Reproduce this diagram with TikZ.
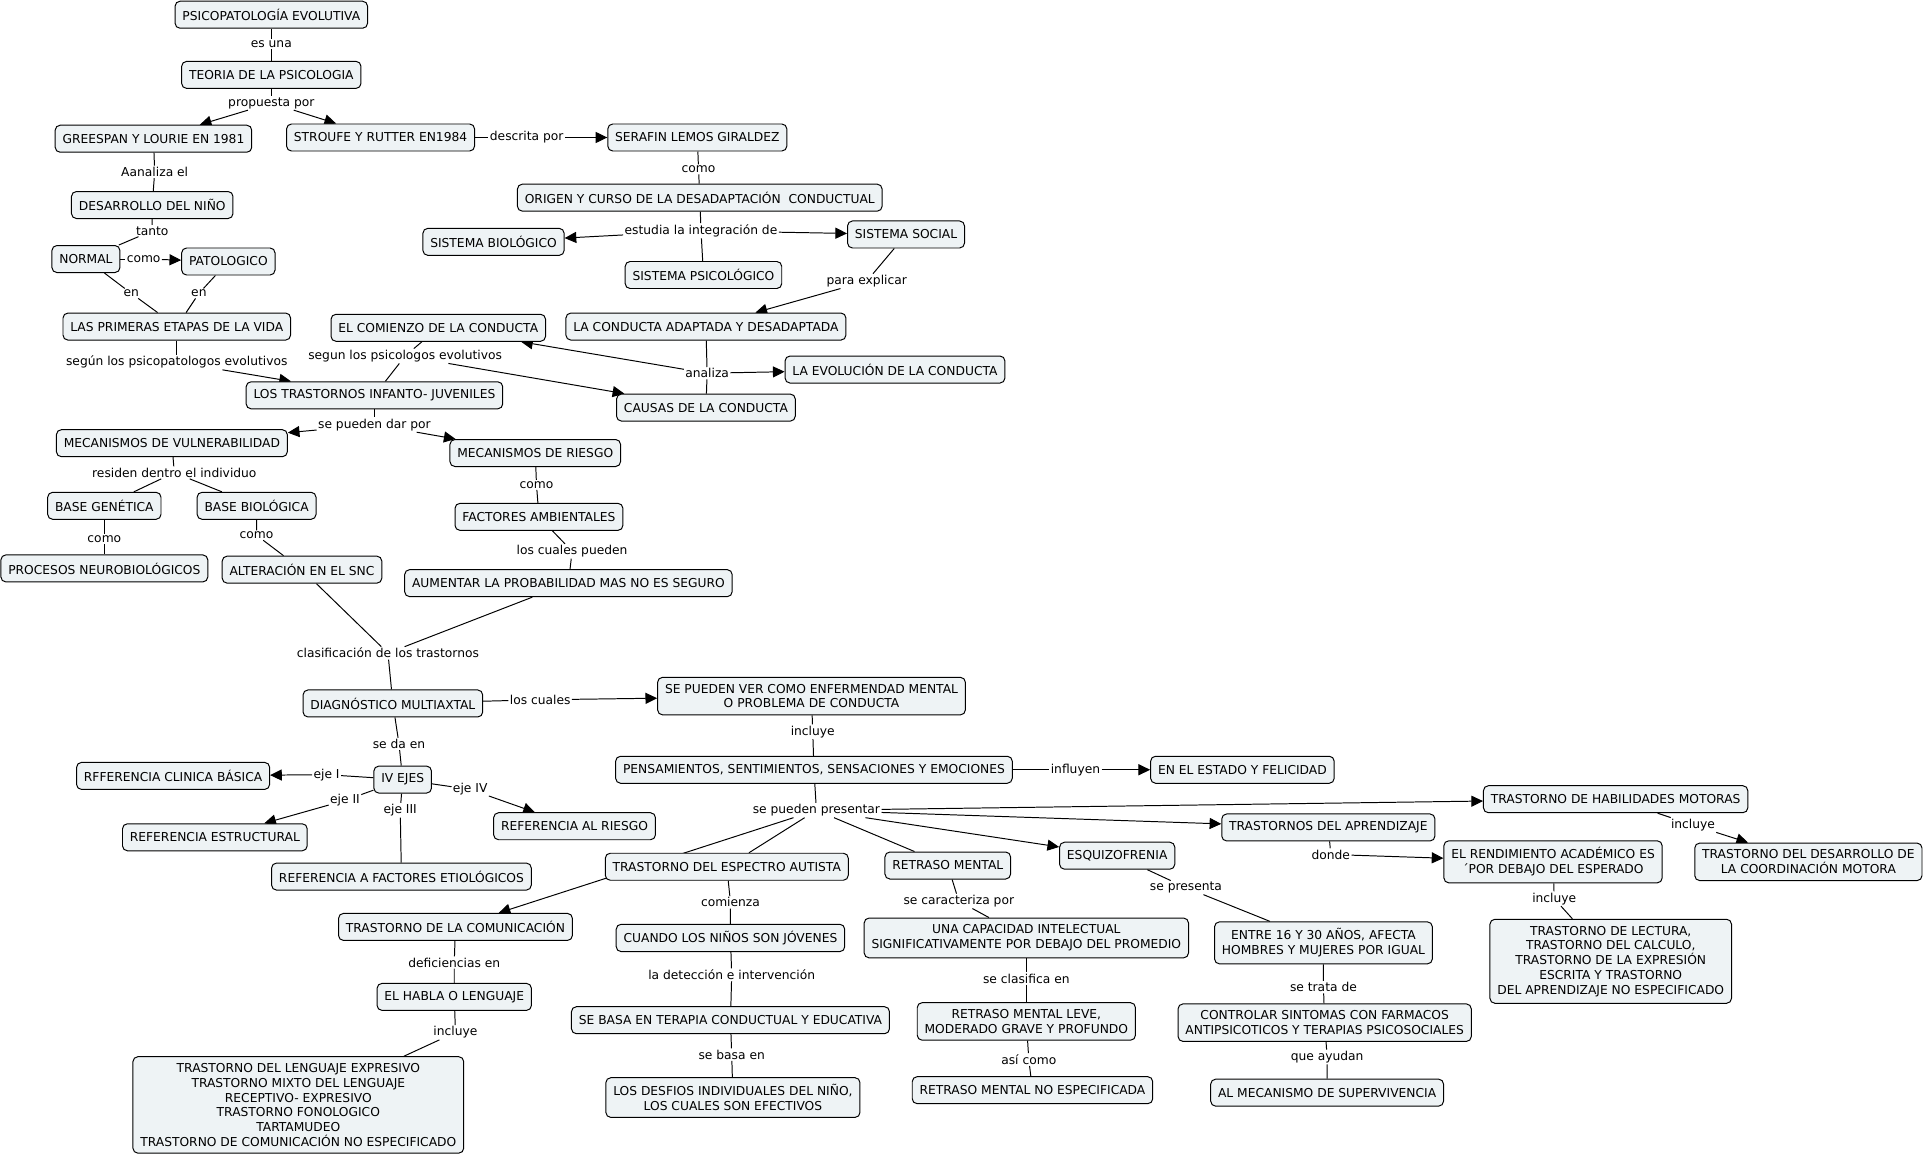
\documentclass[tikz,border=0pt]{standalone}
\usepackage{fontspec}
\setmainfont{DejaVu Sans}
\usetikzlibrary{arrows.meta,backgrounds}
\definecolor{cfill}{RGB}{238,243,245}
\begin{document}
\begin{tikzpicture}[x=1pt,y=-1pt,
  c/.style={draw=black,line width=0.8pt,rounded corners=4pt,fill=cfill,
    font=\fontsize{10}{12}\selectfont,inner xsep=6pt,inner ysep=5.5pt,
    align=center,minimum height=22pt},
  l/.style={font=\fontsize{10}{12}\selectfont,inner sep=1pt},
  ln/.style={line width=0.8pt,draw=black},
  ar/.style={ln,-{Triangle[length=9.5pt,width=9pt]}}]
\useasboundingbox (0,0) rectangle (1568,942);
% concepts
\node[c] (c1) at (221,12) {PSICOPATOLOGÍA EVOLUTIVA};
\node[c] (c2) at (221,61) {TEORIA DE LA PSICOLOGIA};
\node[c] (c3) at (125,113) {GREESPAN Y LOURIE EN 1981};
\node[c] (c4) at (310,112) {STROUFE Y RUTTER EN1984};
\node[c] (c5) at (568,112) {SERAFIN LEMOS GIRALDEZ};
\node[c] (c6) at (570,161) {ORIGEN Y CURSO DE LA DESADAPTACIÓN\ \ CONDUCTUAL};
\node[c] (c7) at (402,197) {SISTEMA BIOLÓGICO};
\node[c] (c8) at (738,191) {SISTEMA SOCIAL};
\node[c] (c9) at (573,224) {SISTEMA PSICOLÓGICO};
\node[c] (c10) at (575,266) {LA CONDUCTA ADAPTADA Y DESADAPTADA};
\node[c] (c11) at (357,267) {EL COMIENZO DE LA CONDUCTA};
\node[c] (c12) at (729,301) {LA EVOLUCIÓN DE LA CONDUCTA};
\node[c] (c13) at (575,332) {CAUSAS DE LA CONDUCTA};
\node[c] (c14) at (124,167) {DESARROLLO DEL NIÑO};
\node[c] (c15) at (70,211) {NORMAL};
\node[c] (c16) at (186,213) {PATOLOGICO};
\node[c] (c17) at (144,266) {LAS PRIMERAS ETAPAS DE LA VIDA};
\node[c] (c18) at (305,322) {LOS TRASTORNOS INFANTO- JUVENILES};
\node[c] (c19) at (140,361) {MECANISMOS DE VULNERABILIDAD};
\node[c] (c20) at (436,369) {MECANISMOS DE RIESGO};
\node[c] (c21) at (85,412) {BASE GENÉTICA};
\node[c] (c22) at (209,412) {BASE BIOLÓGICA};
\node[c] (c23) at (85,463) {PROCESOS NEUROBIOLÓGICOS};
\node[c] (c24) at (246,464) {ALTERACIÓN EN EL SNC};
\node[c] (c25) at (439,421) {FACTORES AMBIENTALES};
\node[c] (c26) at (463,475) {AUMENTAR LA PROBABILIDAD MAS NO ES SEGURO};
\node[c] (c27) at (320,573) {DIAGNÓSTICO MULTIAXTAL};
\node[c] (c28) at (661,567) {SE PUEDEN VER COMO ENFERMENDAD MENTAL\\O PROBLEMA DE CONDUCTA};
\node[c] (c29) at (663,627) {PENSAMIENTOS, SENTIMIENTOS, SENSACIONES Y EMOCIONES};
\node[c] (c30) at (1012,627) {EN EL ESTADO Y FELICIDAD};
\node[c] (c31) at (328,635) {IV EJES};
\node[c] (c32) at (141,632) {RFFERENCIA CLINICA BÁSICA};
\node[c] (c33) at (175,682) {REFERENCIA ESTRUCTURAL};
\node[c] (c34) at (327,714) {REFERENCIA A FACTORES ETIOLÓGICOS};
\node[c] (c35) at (468,673) {REFERENCIA AL RIESGO};
\node[c] (c36) at (592,706) {TRASTORNO DEL ESPECTRO AUTISTA};
\node[c] (c37) at (772,705) {RETRASO MENTAL};
\node[c] (c38) at (910,697) {ESQUIZOFRENIA};
\node[c] (c39) at (1082,674) {TRASTORNOS DEL APRENDIZAJE};
\node[c] (c40) at (1316,651) {TRASTORNO DE HABILIDADES MOTORAS};
\node[c] (c41) at (1473,702) {TRASTORNO DEL DESARROLLO DE\\LA COORDINACIÓN MOTORA};
\node[c] (c42) at (1265,702) {EL RENDIMIENTO ACADÉMICO ES\\´POR DEBAJO DEL ESPERADO};
\node[c] (c43) at (1312,783) {TRASTORNO DE LECTURA,\\TRASTORNO DEL CALCULO,\\TRASTORNO DE LA EXPRESIÓN\\ESCRITA Y TRASTORNO\\DEL APRENDIZAJE NO ESPECIFICADO};
\node[c] (c44) at (1078,768) {ENTRE 16 Y 30 AÑOS, AFECTA\\HOMBRES Y MUJERES POR IGUAL};
\node[c] (c45) at (1079,833) {CONTROLAR SINTOMAS CON FARMACOS\\ANTIPSICOTICOS Y TERAPIAS PSICOSOCIALES};
\node[c] (c46) at (1081,890) {AL MECANISMO DE SUPERVIVENCIA};
\node[c] (c47) at (836,764) {UNA CAPACIDAD INTELECTUAL\\SIGNIFICATIVAMENTE POR DEBAJO DEL PROMEDIO};
\node[c] (c48) at (836,832) {RETRASO MENTAL LEVE,\\MODERADO GRAVE Y PROFUNDO};
\node[c] (c49) at (841,888) {RETRASO MENTAL NO ESPECIFICADA};
\node[c] (c50) at (595,764) {CUANDO LOS NIÑOS SON JÓVENES};
\node[c] (c51) at (595,831) {SE BASA EN TERAPIA CONDUCTUAL Y EDUCATIVA};
\node[c] (c52) at (597,894) {LOS DESFIOS INDIVIDUALES DEL NIÑO,\\LOS CUALES SON EFECTIVOS};
\node[c] (c53) at (371,755) {TRASTORNO DE LA COMUNICACIÓN};
\node[c] (c54) at (370,812) {EL HABLA O LENGUAJE};
\node[c] (c55) at (243,900) {TRASTORNO DEL LENGUAJE EXPRESIVO\\TRASTORNO MIXTO DEL LENGUAJE\\RECEPTIVO- EXPRESIVO\\TRASTORNO FONOLOGICO\\TARTAMUDEO\\TRASTORNO DE COMUNICACIÓN NO ESPECIFICADO};
% labels
\node[l] (l1) at (221,36) {es una};
\node[l] (l2) at (221,84) {propuesta por};
\node[l] (l3) at (429,112) {descrita por};
\node[l] (l4) at (569,138) {como};
\node[l] (l5) at (571,188) {estudia la integración de};
\node[l] (l6) at (706,229) {para explicar};
\node[l] (l7) at (576,304) {analiza};
\node[l] (l8) at (330,290) {segun los psicologos evolutivos};
\node[l] (l9) at (126,140) {Aanaliza el};
\node[l] (l10) at (124,188) {tanto};
\node[l] (l11) at (117,211) {como};
\node[l] (l12) at (107,239) {en};
\node[l] (l13) at (162,239) {en};
\node[l] (l14) at (144,295) {según los psicopatologos evolutivos};
\node[l] (l15) at (305,346) {se pueden dar por};
\node[l] (l16) at (142,385) {residen dentro el individuo};
\node[l] (l17) at (85,439) {como};
\node[l] (l18) at (209,436) {como};
\node[l] (l19) at (437,395) {como};
\node[l] (l20) at (466,449) {los cuales pueden};
\node[l] (l21) at (316,532) {clasificación de los trastornos};
\node[l] (l22) at (440,570) {los cuales};
\node[l] (l23) at (662,596) {incluye};
\node[l] (l24) at (876,627) {influyen};
\node[l] (l25) at (325,606) {se da en};
\node[l] (l26) at (266,631) {eje I};
\node[l] (l27) at (281,652) {eje II};
\node[l] (l28) at (326,660) {eje III};
\node[l] (l29) at (383,643) {eje IV};
\node[l] (l30) at (665,660) {se pueden presentar};
\node[l] (l31) at (1379,672) {incluye};
\node[l] (l32) at (1084,696) {donde};
\node[l] (l33) at (1266,732) {incluye};
\node[l] (l34) at (966,723) {se presenta};
\node[l] (l35) at (1078,804) {se trata de};
\node[l] (l36) at (1081,861) {que ayudan};
\node[l] (l37) at (781,734) {se caracteriza por};
\node[l] (l38) at (836,797) {se clasifica en};
\node[l] (l39) at (838,863) {así como};
\node[l] (l40) at (595,735) {comienza};
\node[l] (l41) at (596,794) {la detección e intervención};
\node[l] (l42) at (596,859) {se basa en};
\node[l] (l43) at (370,784) {deficiencias en};
\node[l] (l44) at (371,841) {incluye};
% connectors
\begin{pgfonlayer}{background}
\fill[white] (0,0) rectangle (1568,942);
\draw[ln] (c1) -- (l1) -- (c2);
\draw[ln] (c2) -- (l2);
\draw[ar] (l2) -- (c3);
\draw[ar] (l2) -- (c4);
\draw[ln] (c4) -- (l3); \draw[ar] (l3) -- (c5);
\draw[ln] (c5) -- (l4) -- (c6);
\draw[ln] (c6) -- (l5) -- (c9);
\draw[ar] (l5) -- (c7);
\draw[ar] (l5) -- (c8);
\draw[ln] (c8) -- (l6); \draw[ar] (l6) -- (c10);
\draw[ln] (c10) -- (l7) -- (c13);
\draw[ar] (l7) -- (c11);
\draw[ar] (l7) -- (c12);
\draw[ln] (c11) -- (l8) -- (c18);
\draw[ar] (l8) -- (c13);
\draw[ln] (c3) -- (l9) -- (c14);
\draw[ln] (c14) -- (l10) -- (c15);
\draw[ln] (c15) -- (l11); \draw[ar] (l11) -- (c16);
\draw[ln] (c15) -- (l12) -- (c17);
\draw[ln] (c16) -- (l13) -- (c17);
\draw[ln] (c17) -- (l14); \draw[ar] (l14) -- (c18);
\draw[ln] (c18) -- (l15);
\draw[ar] (l15) -- (c19);
\draw[ar] (l15) -- (c20);
\draw[ln] (c19) -- (l16) -- (c21);
\draw[ln] (l16) -- (c22);
\draw[ln] (c21) -- (l17) -- (c23);
\draw[ln] (c22) -- (l18) -- (c24);
\draw[ln] (c20) -- (l19) -- (c25);
\draw[ln] (c25) -- (l20) -- (c26);
\draw[ln] (c24) -- (l21);
\draw[ln] (c26) -- (l21);
\draw[ln] (l21) -- (c27);
\draw[ln] (c27) -- (l22); \draw[ar] (l22) -- (c28);
\draw[ln] (c28) -- (l23) -- (c29);
\draw[ln] (c29) -- (l24); \draw[ar] (l24) -- (c30);
\draw[ln] (c27) -- (l25) -- (c31);
\draw[ln] (c31) -- (l26); \draw[ar] (l26) -- (c32);
\draw[ln] (c31) -- (l27); \draw[ar] (l27) -- (c33);
\draw[ln] (c31) -- (l28) -- (c34);
\draw[ln] (c31) -- (l29); \draw[ar] (l29) -- (c35);
\draw[ln] (c29) -- (l30);
\draw[ar] (l30) -- (c40);
\draw[ar] (l30) -- (c39);
\draw[ar] (l30) -- (c38);
\draw[ln] (l30) -- (c37);
\draw[ln] (l30) -- (c36);
\draw[ar] (l30) -- (c53);
\draw[ln] (c40) -- (l31); \draw[ar] (l31) -- (c41);
\draw[ln] (c39) -- (l32); \draw[ar] (l32) -- (c42);
\draw[ln] (c42) -- (l33) -- (c43);
\draw[ln] (c38) -- (l34) -- (c44);
\draw[ln] (c44) -- (l35) -- (c45);
\draw[ln] (c45) -- (l36) -- (c46);
\draw[ln] (c37) -- (l37) -- (c47);
\draw[ln] (c47) -- (l38) -- (c48);
\draw[ln] (c48) -- (l39) -- (c49);
\draw[ln] (c36) -- (l40) -- (c50);
\draw[ln] (c50) -- (l41) -- (c51);
\draw[ln] (c51) -- (l42) -- (c52);
\draw[ln] (c53) -- (l43) -- (c54);
\draw[ln] (c54) -- (l44) -- (c55);
\end{pgfonlayer}
\end{tikzpicture}
\end{document}
